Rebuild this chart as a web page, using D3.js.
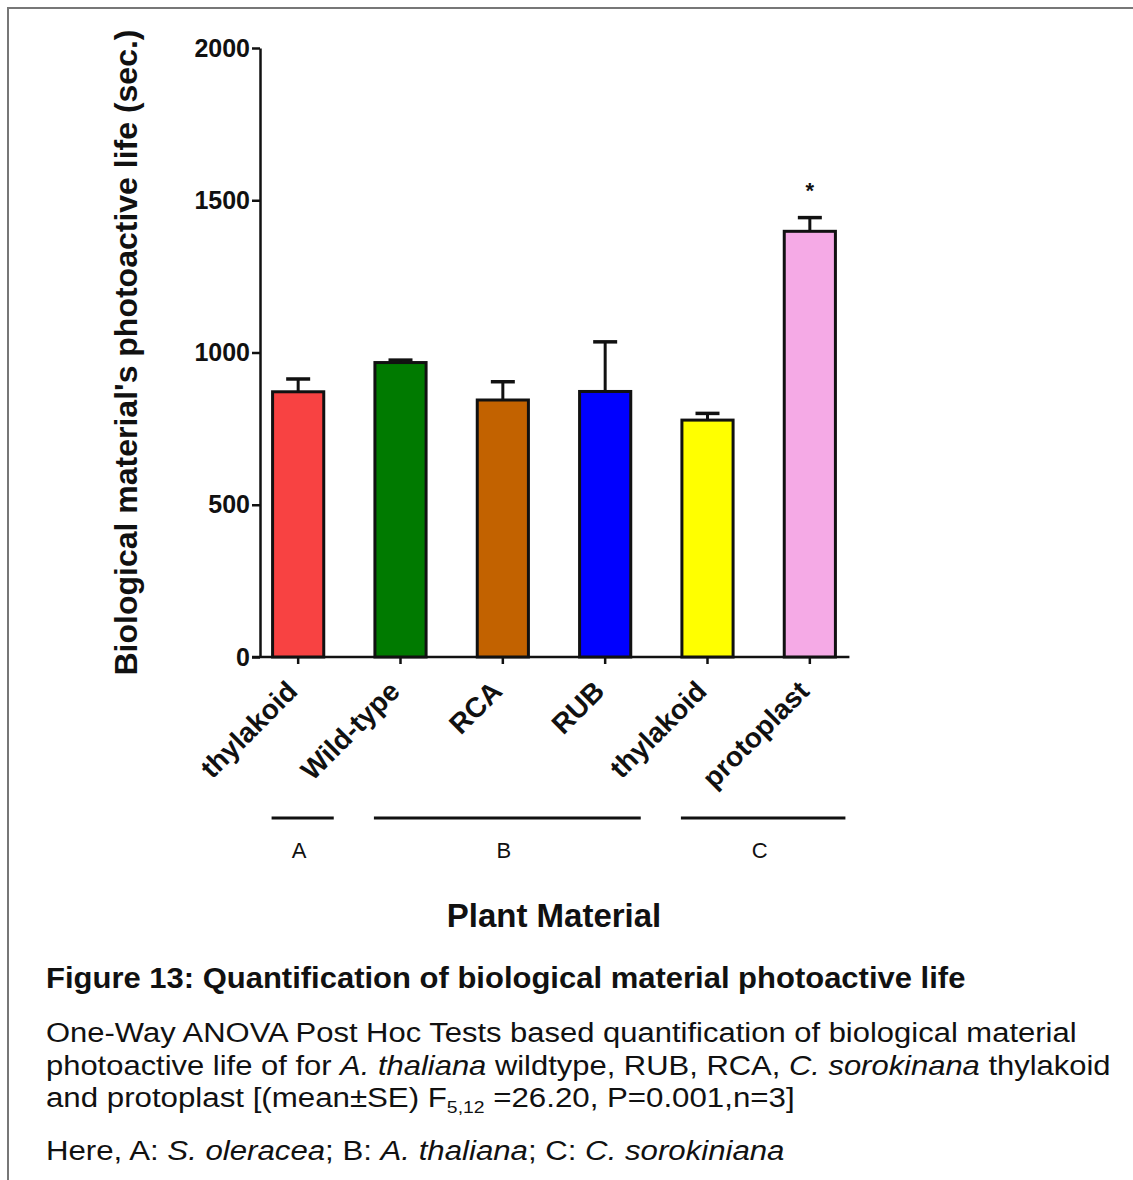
<!DOCTYPE html>
<html>
<head>
<meta charset="utf-8">
<script src="https://cdn.jsdelivr.net/npm/d3@7"></script>
<style>
  html, body { margin: 0; padding: 0; background: #fff; }
  svg text { font-family: "Liberation Sans", Arial, sans-serif; fill: #111; }
</style>
</head>
<body>
<svg id="chart" width="1133" height="1180"></svg>
<script>
// bar data
const categories = ["thylakoid", "Wild-type", "RCA", "RUB", "thylakoid", "protoplast"];
const means = [871, 967, 844, 872, 778, 1398];
const errors = [42, 8, 60, 163, 22, 45];
const barColors = ["#f84242", "#007a00", "#c26200", "#0000ff", "#ffff00", "#f5aae6"];
const yTicks = [0, 500, 1000, 1500, 2000];
const starred = [5];

// species groups under the axis
const groupLabels = ["A", "B", "C"];
const groupFirst = [0, 1, 4];
const groupLast = [0, 3, 5];

const svg = d3.select("#chart");

// frame of the figure
svg.append("path")
  .attr("d", "M8,1180V8H1133")
  .attr("fill", "none")
  .attr("stroke", "#777")
  .attr("stroke-width", 2);

const x = d3.scaleBand(d3.range(categories.length), [247, 861])
  .paddingInner(0.5)
  .paddingOuter(0.25);
const y = d3.scaleLinear([0, 2000], [657, 48]);
const axisX = 260;
const bw = x.bandwidth();

// y axis
const yAxis = svg.append("g")
  .attr("transform", `translate(${axisX},0)`)
  .call(d3.axisLeft(y).tickValues(yTicks).tickFormat(d3.format("d"))
    .tickSize(8).tickSizeOuter(0).tickPadding(2));
yAxis.select(".domain").attr("stroke", "#111").attr("stroke-width", 2.5);
yAxis.selectAll(".tick line").attr("stroke", "#111").attr("stroke-width", 2.5);
yAxis.selectAll(".tick text")
  .attr("font-size", 25)
  .attr("font-weight", "bold")
  .attr("font-family", "Liberation Sans, Arial, sans-serif")
  .attr("fill", "#111");

// x axis line and ticks
svg.append("line")
  .attr("x1", axisX - 8).attr("x2", x(categories.length - 1) + bw + 14)
  .attr("y1", y(0)).attr("y2", y(0))
  .attr("stroke", "#111").attr("stroke-width", 2.5);

svg.append("g").selectAll("line")
  .data(d3.range(categories.length))
  .join("line")
  .attr("x1", i => x(i) + bw / 2).attr("x2", i => x(i) + bw / 2)
  .attr("y1", y(0)).attr("y2", y(0) + 7)
  .attr("stroke", "#111").attr("stroke-width", 2.5);

// error bars (upper only)
const err = svg.append("g").selectAll("g")
  .data(d3.range(categories.length))
  .join("g");
err.append("line")
  .attr("x1", i => x(i) + bw / 2).attr("x2", i => x(i) + bw / 2)
  .attr("y1", i => y(means[i])).attr("y2", i => y(means[i] + errors[i]))
  .attr("stroke", "#111").attr("stroke-width", 3);
err.append("line")
  .attr("x1", i => x(i) + bw / 2 - 12).attr("x2", i => x(i) + bw / 2 + 12)
  .attr("y1", i => y(means[i] + errors[i])).attr("y2", i => y(means[i] + errors[i]))
  .attr("stroke", "#111").attr("stroke-width", 3.5);

// bars
svg.append("g").selectAll("rect")
  .data(d3.range(categories.length))
  .join("rect")
  .attr("x", i => x(i))
  .attr("y", i => y(means[i]))
  .attr("width", bw)
  .attr("height", i => y(0) - y(means[i]))
  .attr("fill", i => barColors[i])
  .attr("stroke", "#111")
  .attr("stroke-width", 3);

// significance mark
svg.append("g").selectAll("text")
  .data(starred)
  .join("text")
  .attr("x", i => x(i) + bw / 2)
  .attr("y", i => y(means[i] + errors[i]) - 20)
  .attr("text-anchor", "middle")
  .attr("font-size", 22)
  .attr("font-weight", "bold")
  .text("*");

// rotated category labels
svg.append("g").selectAll("text")
  .data(d3.range(categories.length))
  .join("text")
  .attr("transform", i => `translate(${x(i) + bw / 2 - 6},${y(0) + 29}) rotate(-45)`)
  .attr("text-anchor", "end")
  .attr("dy", "0.35em")
  .attr("font-size", 28)
  .attr("font-weight", "bold")
  .text(i => categories[i]);

// group lines + letters
const grp = svg.append("g").selectAll("g")
  .data(groupLabels)
  .join("g");
grp.append("line")
  .attr("x1", (d, k) => x(groupFirst[k]) - 1)
  .attr("x2", (d, k) => x(groupLast[k]) + bw + 10)
  .attr("y1", 818).attr("y2", 818)
  .attr("stroke", "#111").attr("stroke-width", 3);
grp.append("text")
  .attr("x", (d, k) => (x(groupFirst[k]) + x(groupLast[k]) + bw) / 2 + 1)
  .attr("y", 858)
  .attr("text-anchor", "middle")
  .attr("font-size", 22)
  .text(d => d);

// axis titles
svg.append("text")
  .attr("transform", `translate(137,${(y(0) + y(2000)) / 2}) rotate(-90)`)
  .attr("text-anchor", "middle")
  .attr("font-size", 32)
  .attr("font-weight", "bold")
  .text("Biological material's photoactive life (sec.)");

svg.append("text")
  .attr("x", 554)
  .attr("y", 927)
  .attr("text-anchor", "middle")
  .attr("font-size", 33)
  .attr("font-weight", "bold")
  .text("Plant Material");

// caption; each line is squeezed to the width it has in the figure
function captionLine(yPos, width, size, bold, parts) {
  const t = svg.append("text")
    .attr("x", 0).attr("y", 0)
    .attr("font-size", size)
    .attr("font-weight", bold ? "bold" : "normal");
  parts.forEach(p => {
    const s = t.append("tspan").text(p.t);
    if (p.i) s.attr("font-style", "italic");
    if (p.sub) s.attr("font-size", size * 0.62).attr("dy", 6);
    if (p.up) s.attr("dy", -6);
  });
  const w = t.node().getComputedTextLength();
  t.attr("transform", `translate(46,${yPos}) scale(${width / w},1)`);
}

captionLine(988, 920, 29, true, [
  { t: "Figure 13: Quantification  of biological  material photoactive  life" }
]);
captionLine(1042, 1031, 28, false, [
  { t: "One-Way ANOVA Post Hoc Tests based quantification of biological material" }
]);
captionLine(1075, 1065, 28, false, [
  { t: "photoactive life of for " },
  { t: "A. thaliana", i: true },
  { t: " wildtype, RUB, RCA, " },
  { t: "C. sorokinana", i: true },
  { t: " thylakoid" }
]);
captionLine(1107, 749, 28, false, [
  { t: "and protoplast [(mean±SE) F" },
  { t: "5,12", sub: true },
  { t: " =26.20, P=0.001,n=3]", up: true }
]);
captionLine(1160, 739, 28, false, [
  { t: "Here, A: " },
  { t: "S. oleracea", i: true },
  { t: "; B: " },
  { t: "A. thaliana", i: true },
  { t: "; C: " },
  { t: "C. sorokiniana", i: true }
]);
</script>
</body>
</html>
